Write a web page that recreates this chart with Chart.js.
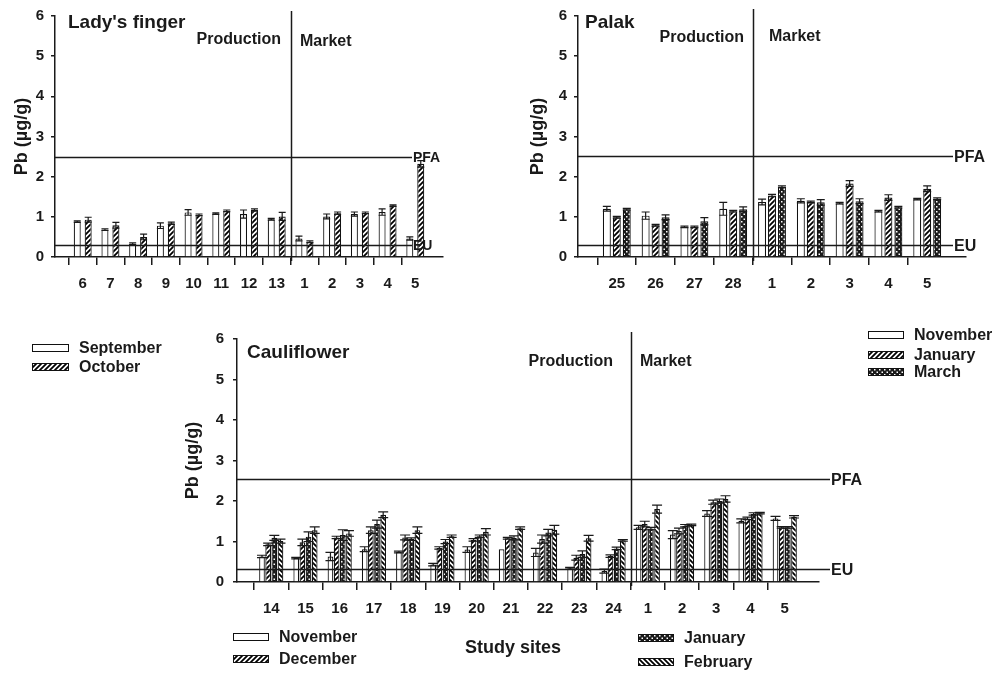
<!DOCTYPE html>
<html>
<head>
<meta charset="utf-8">
<script src="https://cdn.jsdelivr.net/npm/chart.js@4.4.0/dist/chart.umd.min.js"></script>
<style>
  body { margin: 0; background: #fff; width: 995px; height: 676px; overflow: hidden; position: relative;
         font-family: "Liberation Sans", Arial, sans-serif; color: #1a1a1a; }
  canvas.plot { position: absolute; left: 0; top: 0; }
  canvas.swatch { position: absolute; }
  .legtext { position: absolute; font-weight: bold; font-size: 16px; line-height: 18px; white-space: nowrap; }
</style>
</head>
<body>
<canvas id="ladyChart" class="plot" width="995" height="676"></canvas>
<canvas id="palakChart" class="plot" width="995" height="676"></canvas>
<canvas id="cauliChart" class="plot" width="995" height="676"></canvas>
<div id="legends"></div>

<script>
const FONT = '"Liberation Sans", Arial, sans-serif';
const INK = '#1a1a1a';

// Lady's finger: Sept / Oct
const ladySites  = ['6', '7', '8', '9', '10', '11', '12', '13', '1', '2', '3', '4', '5'];
const ladySep    = [0.88, 0.68, 0.33, 0.78, 1.11, 1.08, 1.07, 0.94, 0.46, 1.01, 1.07, 1.12, 0.46];
const ladySepErr = [0.02, 0.02, 0.02, 0.07, 0.07, 0.02, 0.10, 0.02, 0.06, 0.06, 0.05, 0.08, 0.04];
const ladyOct    = [0.93, 0.79, 0.50, 0.84, 1.05, 1.15, 1.17, 1.01, 0.38, 1.09, 1.10, 1.28, 2.32];
const ladyOctErr = [0.06, 0.07, 0.07, 0.03, 0.02, 0.02, 0.03, 0.10, 0.02, 0.03, 0.02, 0.02, 0.08];

// Palak: Nov / Jan / Mar
const palakSites  = ['25', '26', '27', '28', '1', '2', '3', '4', '5'];
const palakNov    = [1.20, 1.03, 0.75, 1.20, 1.37, 1.40, 1.34, 1.14, 1.44];
const palakNovErr = [0.06, 0.09, 0.02, 0.16, 0.07, 0.05, 0.02, 0.02, 0.02];
const palakJan    = [0.99, 0.79, 0.75, 1.14, 1.53, 1.37, 1.83, 1.48, 1.70];
const palakJanErr = [0.02, 0.02, 0.02, 0.02, 0.03, 0.02, 0.07, 0.07, 0.07];
const palakMar    = [1.19, 0.99, 0.89, 1.19, 1.75, 1.36, 1.39, 1.24, 1.45];
const palakMarErr = [0.02, 0.06, 0.09, 0.06, 0.02, 0.07, 0.06, 0.02, 0.02];

// Cauliflower: Nov / Dec / Jan / Feb
const cauliSites  = ['14', '15', '16', '17', '18', '19', '20', '21', '22', '23', '24', '1', '2', '3', '4', '5'];
const cauliNov    = [0.63, 0.59, 0.63, 0.81, 0.74, 0.43, 0.80, 0.81, 0.73, 0.34, 0.27, 1.35, 1.17, 1.69, 1.51, 1.57];
const cauliNovErr = [0.03, 0.02, 0.10, 0.06, 0.02, 0.03, 0.07, 0.00, 0.10, 0.02, 0.05, 0.05, 0.10, 0.07, 0.05, 0.05];
const cauliDec    = [0.93, 0.98, 1.10, 1.28, 1.10, 0.84, 1.04, 1.08, 1.06, 0.60, 0.64, 1.43, 1.26, 1.97, 1.57, 1.35];
const cauliDecErr = [0.03, 0.08, 0.03, 0.08, 0.06, 0.03, 0.03, 0.02, 0.10, 0.06, 0.03, 0.07, 0.07, 0.05, 0.03, 0.02];
const cauliJan    = [1.09, 1.12, 1.16, 1.43, 1.06, 1.00, 1.13, 1.09, 1.22, 0.69, 0.83, 1.32, 1.39, 2.00, 1.68, 1.35];
const cauliJanErr = [0.06, 0.12, 0.13, 0.10, 0.03, 0.05, 0.03, 0.05, 0.08, 0.08, 0.03, 0.03, 0.03, 0.05, 0.03, 0.02];
const cauliFeb    = [1.01, 1.28, 1.20, 1.66, 1.28, 1.13, 1.24, 1.33, 1.29, 1.08, 1.03, 1.80, 1.41, 2.05, 1.70, 1.61];
const cauliFebErr = [0.05, 0.08, 0.07, 0.07, 0.08, 0.03, 0.08, 0.03, 0.11, 0.07, 0.02, 0.10, 0.02, 0.08, 0.02, 0.03];

// guideline levels
const limitNames  = ['PFA', 'EU'];
const ladyLimits  = [2.48, 0.30];
const palakLimits = [2.52, 0.30];
const cauliLimits = [2.55, 0.32];

/**
 * Fill patterns for the bars
 */
function makePattern(kind) {
  const s = 5;
  const c = document.createElement('canvas');
  c.width = s; c.height = s;
  const g = c.getContext('2d');
  if (kind === 'plain') {
    g.fillStyle = '#fff'; g.fillRect(0, 0, s, s);
  } else if (kind === 'cross') {
    g.fillStyle = '#1a1a1a'; g.fillRect(0, 0, s, s);
    g.fillStyle = '#fff';
    g.fillRect(1, 1, 1.5, 1.5); g.fillRect(3.5, 3.5, 1.5, 1.5);
  } else {
    g.fillStyle = '#fff'; g.fillRect(0, 0, s, s);
    g.strokeStyle = '#000'; g.lineWidth = 1.8;
    g.beginPath();
    if (kind === 'fwd') {
      g.moveTo(-1, s + 1); g.lineTo(s + 1, -1);
      g.moveTo(-1, 1); g.lineTo(1, -1);
      g.moveTo(s - 1, s + 1); g.lineTo(s + 1, s - 1);
    } else {
      g.moveTo(-1, -1); g.lineTo(s + 1, s + 1);
      g.moveTo(s - 1, -1); g.lineTo(s + 1, 1);
      g.moveTo(-1, s - 1); g.lineTo(1, s + 1);
    }
    g.stroke();
  }
  return g.createPattern(c, 'repeat');
}

const fills = {
  plain: makePattern('plain'),
  fwd: makePattern('fwd'),
  back: makePattern('back'),
  cross: makePattern('cross')
};

/**
 * Error bars, guideline lines, divider and panel texts
 */
function makeDecor(cfg) {
  return {
    id: 'decor',
    afterDatasetsDraw(chart) {
      const ctx = chart.ctx;
      const y = chart.scales.y;
      const hw = cfg.capWidth / 2;
      ctx.save();
      ctx.strokeStyle = INK;
      ctx.lineWidth = 1.2;
      chart.data.datasets.forEach((ds, i) => {
        chart.getDatasetMeta(i).data.forEach((bar, j) => {
          const v = ds.data[j], e = ds.errors[j];
          if (v == null || !e) return;
          const yt = y.getPixelForValue(v + e);
          const yb = y.getPixelForValue(v - e);
          ctx.beginPath();
          ctx.moveTo(bar.x, yt); ctx.lineTo(bar.x, yb);
          ctx.moveTo(bar.x - hw, yt); ctx.lineTo(bar.x + hw, yt);
          ctx.moveTo(bar.x - hw, yb); ctx.lineTo(bar.x + hw, yb);
          ctx.stroke();
        });
      });
      ctx.restore();
    },
    afterDraw(chart) {
      const { ctx, chartArea: a } = chart;
      const { x, y } = chart.scales;
      ctx.save();
      ctx.strokeStyle = INK;
      ctx.fillStyle = INK;
      ctx.lineWidth = 1.5;

      // PFA / EU lines
      ctx.font = 'bold ' + cfg.limitSize + 'px ' + FONT;
      ctx.textAlign = 'left';
      ctx.textBaseline = 'middle';
      cfg.limits.forEach((v, k) => {
        const py = Math.round(y.getPixelForValue(v)) + 0.5;
        ctx.beginPath();
        ctx.moveTo(a.left, py); ctx.lineTo(cfg.limitEnd, py);
        ctx.stroke();
        ctx.fillText(limitNames[k], cfg.limitEnd + 1, py + 1);
      });

      // production | market divider
      const dx = Math.round((x.getPixelForValue(cfg.split) + x.getPixelForValue(cfg.split + 1)) / 2) + 0.5;
      ctx.beginPath();
      ctx.moveTo(dx, cfg.dividerTop); ctx.lineTo(dx, a.bottom + 4);
      ctx.stroke();

      ctx.textBaseline = 'alphabetic';
      cfg.texts.forEach(t => {
        ctx.font = 'bold ' + t.size + 'px ' + FONT;
        ctx.textAlign = t.align || 'left';
        ctx.fillText(t.text, t.x, t.y);
      });
      ctx.restore();
    }
  };
}

function buildChart(id, cfg) {
  const labels = ['', ...cfg.sites, ''];
  const pad = arr => [null, ...arr, null];
  const n = labels.length;
  const b = cfg.box;
  const tickColor = ctx => (ctx.index === 0 || ctx.index === n - 1) ? 'rgba(0,0,0,0)' : INK;

  return new Chart(document.getElementById(id), {
    type: 'bar',
    data: {
      labels: labels,
      datasets: cfg.series.map(s => ({
        label: s.name,
        data: pad(s.values),
        errors: pad(s.errors),
        backgroundColor: s.fill,
        borderColor: '#111',
        borderWidth: 1.2,
        borderSkipped: 'bottom',
        categoryPercentage: cfg.catPct,
        barPercentage: cfg.barPct
      }))
    },
    options: {
      responsive: false,
      animation: false,
      events: [],
      layout: {
        padding: { left: b.titleLeft, top: b.top, right: 995 - b.right, bottom: 676 - b.bottom - 40 }
      },
      plugins: {
        legend: { display: false },
        tooltip: { enabled: false }
      },
      scales: {
        x: {
          type: 'category',
          offset: false,
          grid: { drawOnChartArea: false, tickLength: 8, lineWidth: 1.5, color: tickColor },
          border: { color: INK, width: 1.5 },
          ticks: {
            color: INK, padding: 10, autoSkip: false, maxRotation: 0,
            font: { family: FONT, size: 15, weight: 'bold' }
          },
          afterFit: s => { s.height = 40; }
        },
        y: {
          min: 0,
          max: 6,
          grid: { drawOnChartArea: false, tickLength: 4, lineWidth: 1.5, color: INK },
          border: { color: INK, width: 1.5 },
          ticks: {
            stepSize: 1, color: INK, padding: cfg.yTickPad,
            font: { family: FONT, size: 15, weight: 'bold' }
          },
          title: {
            display: true, text: 'Pb (µg/g)', color: INK, padding: 0,
            font: { family: FONT, size: 18, weight: 'bold', lineHeight: 1 }
          },
          afterFit: s => { s.width = b.axisX - b.titleLeft; }
        }
      }
    },
    plugins: [makeDecor(cfg)]
  });
}

buildChart('ladyChart', {
  sites: ladySites,
  series: [
    { name: 'September', values: ladySep, errors: ladySepErr, fill: fills.plain },
    { name: 'October', values: ladyOct, errors: ladyOctErr, fill: fills.fwd }
  ],
  box: { titleLeft: 13, axisX: 55, top: 15, bottom: 257, right: 443 },
  catPct: 0.79, barPct: 0.64, capWidth: 7, yTickPad: 7,
  limits: ladyLimits, limitEnd: 412, limitSize: 14,
  split: 8, dividerTop: 11,
  texts: [
    { text: "Lady's finger", x: 68, y: 28, size: 19 },
    { text: 'Production', x: 281, y: 44, size: 16, align: 'right' },
    { text: 'Market', x: 300, y: 46, size: 16 }
  ]
});

buildChart('palakChart', {
  sites: palakSites,
  series: [
    { name: 'November', values: palakNov, errors: palakNovErr, fill: fills.plain },
    { name: 'January', values: palakJan, errors: palakJanErr, fill: fills.fwd },
    { name: 'March', values: palakMar, errors: palakMarErr, fill: fills.cross }
  ],
  box: { titleLeft: 529, axisX: 578, top: 15, bottom: 257, right: 966 },
  catPct: 0.77, barPct: 0.8, capWidth: 8, yTickPad: 7,
  limits: palakLimits, limitEnd: 953, limitSize: 16,
  split: 4, dividerTop: 9,
  texts: [
    { text: 'Palak', x: 585, y: 28, size: 19 },
    { text: 'Production', x: 744, y: 42, size: 16, align: 'right' },
    { text: 'Market', x: 769, y: 41, size: 16 }
  ]
});

buildChart('cauliChart', {
  sites: cauliSites,
  series: [
    { name: 'November', values: cauliNov, errors: cauliNovErr, fill: fills.plain },
    { name: 'December', values: cauliDec, errors: cauliDecErr, fill: fills.fwd },
    { name: 'January', values: cauliJan, errors: cauliJanErr, fill: fills.cross },
    { name: 'February', values: cauliFeb, errors: cauliFebErr, fill: fills.back }
  ],
  box: { titleLeft: 184, axisX: 237, top: 339, bottom: 582, right: 819 },
  catPct: 0.72, barPct: 0.92, capWidth: 10, yTickPad: 9,
  limits: cauliLimits, limitEnd: 830, limitSize: 16,
  split: 11, dividerTop: 332,
  texts: [
    { text: 'Cauliflower', x: 247, y: 358, size: 19 },
    { text: 'Production', x: 613, y: 366, size: 16, align: 'right' },
    { text: 'Market', x: 640, y: 366, size: 16 },
    { text: 'Study sites', x: 513, y: 653, size: 18, align: 'center' }
  ]
});

/**
 * Legends (three separate keys, placed like the figure)
 */
const legendItems = [
  { text: 'September', fill: 'plain', x: 32, y: 344, w: 37, h: 8 },
  { text: 'October', fill: 'fwd', x: 32, y: 363, w: 37, h: 8 },
  { text: 'November', fill: 'plain', x: 868, y: 331, w: 36, h: 8 },
  { text: 'January', fill: 'fwd', x: 868, y: 351, w: 36, h: 8 },
  { text: 'March', fill: 'cross', x: 868, y: 368, w: 36, h: 8 },
  { text: 'November', fill: 'plain', x: 233, y: 633, w: 36, h: 8 },
  { text: 'December', fill: 'fwd', x: 233, y: 655, w: 36, h: 8 },
  { text: 'January', fill: 'cross', x: 638, y: 634, w: 36, h: 8 },
  { text: 'February', fill: 'back', x: 638, y: 658, w: 36, h: 8 }
];

const legendBox = document.getElementById('legends');
legendItems.forEach(item => {
  const sw = document.createElement('canvas');
  sw.className = 'swatch';
  sw.width = item.w; sw.height = item.h;
  sw.style.left = item.x + 'px';
  sw.style.top = item.y + 'px';
  const g = sw.getContext('2d');
  g.fillStyle = fills[item.fill];
  g.fillRect(0, 0, item.w, item.h);
  g.strokeStyle = '#111';
  g.lineWidth = 1;
  g.strokeRect(0.5, 0.5, item.w - 1, item.h - 1);
  legendBox.appendChild(sw);

  const t = document.createElement('div');
  t.className = 'legtext';
  t.textContent = item.text;
  t.style.left = (item.x + item.w + 10) + 'px';
  t.style.top = (item.y + item.h / 2 - 9) + 'px';
  legendBox.appendChild(t);
});
</script>
</body>
</html>
